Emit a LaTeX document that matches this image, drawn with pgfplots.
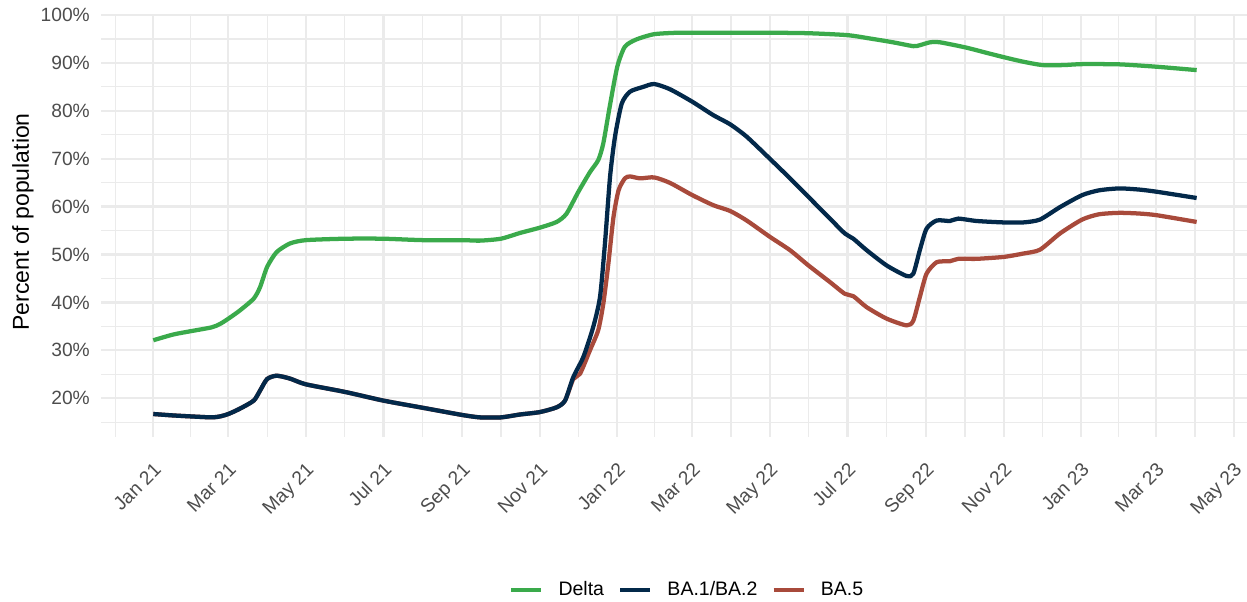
\documentclass[border=0pt]{standalone}
\usepackage{fontspec}
\setmainfont{Liberation Sans}
\usepackage{pgfplots}
\pgfplotsset{compat=1.18}
\definecolor{delta}{HTML}{3AAA4B}
\definecolor{ba12}{HTML}{03294A}
\definecolor{ba5}{HTML}{A84A3B}
\definecolor{gridc}{HTML}{EBEBEB}
\definecolor{tickc}{HTML}{4D4D4D}
\begin{document}
\begin{tikzpicture}
\useasboundingbox (0,0) rectangle (623.5pt,300.5pt);
\begin{axis}[
  at={(50.6pt,82pt)}, anchor=south west,
  scale only axis, width=572.9pt, height=211.7pt,
  xmin=-41, xmax=860.4, ymin=11.9, ymax=100.3,
  xtick={0,59,120,181,243,304,365,424,485,546,608,669,730,789,850},
  xticklabels={Jan 21,Mar 21,May 21,Jul 21,Sep 21,Nov 21,Jan 22,Mar 22,May 22,Jul 22,Sep 22,Nov 22,Jan 23,Mar 23,May 23},
  minor xtick={-29.5,29.5,89.5,150.5,212,273.5,334.5,394.5,454.5,515.5,577,638.5,699.5,759.5,819.5},
  ytick={20,30,40,50,60,70,80,90,100},
  yticklabels={20\%,30\%,40\%,50\%,60\%,70\%,80\%,90\%,100\%},
  minor ytick={15,25,35,45,55,65,75,85,95},
  grid=both,
  major grid style={draw=gridc, line width=1.16pt},
  minor grid style={draw=gridc, line width=0.58pt},
  axis line style={draw=none},
  tick style={draw=none},
  major tick length=0pt, minor tick length=0pt,
  ticklabel style={font=\fontsize{9.6}{11}\selectfont, text=tickc},
  yticklabel style={anchor=east, inner sep=0pt, xshift=-5.5pt},
  xticklabel style={inner sep=0pt, xshift=-0.3pt, yshift=-12pt, rotate=45, anchor=north east},
  ylabel={Percent of population},
  ylabel style={at={(axis description cs:-0.0684,0.508)}, anchor=center, font=\fontsize{11.5}{13}\selectfont},
  legend style={at={(axis description cs:0.3556,-0.3614)}, anchor=west, draw=none, fill=none, inner sep=0pt,
    nodes={inner sep=0pt, font=\fontsize{9.75}{11}\selectfont},
    column sep=0pt,
    /tikz/every odd column/.append style={column sep=7.6pt},
    /tikz/every even column/.append style={column sep=7pt}},
  legend columns=3,
  legend cell align=left,
  legend image code/.code={\draw[#1, line width=2.13pt] (0pt,0pt) -- (15pt,0pt);},
]
\addplot[delta, line width=2.13pt, line join=round, smooth, tension=0.4, forget plot] coordinates {
(0,32.1) (15.7,33.3) (29.6,34.0) (46,34.8) (52.5,35.5) (59,36.6) (68,38.3) (79,40.8) (84,43.2) (89.5,47.4) (97,50.5) (107.5,52.3) (120,53.0) (151,53.3) (181,53.3) (212,53.0) (243,53.0) (257,52.9) (273.5,53.3) (288.5,54.5) (304,55.6) (317.3,56.8) (325,58.5) (334.4,63.1) (343.5,67.2) (350,69.7) (354,73.2) (359,80.8) (365,89.2) (371,93.4) (380,94.9) (394,96.0) (412,96.3) (424,96.3) (485,96.3) (515.5,96.2) (546,95.8) (563.8,95.1) (582,94.3) (597.9,93.5) (603,93.7) (611,94.3) (619,94.3) (639.5,93.2) (655.6,92.1) (669,91.2) (684.4,90.25) (699.6,89.55) (716,89.55) (730.7,89.75) (760,89.7) (789.5,89.2) (820.8,88.5)
};
\addplot[ba5, line width=2.13pt, line join=round, smooth, tension=0.4, forget plot] coordinates {
(0,16.7) (15.7,16.4) (29.6,16.2) (46,16.0) (52.5,16.2) (59,16.7) (68,17.8) (79,19.5) (84,21.6) (89.5,24.0) (97,24.7) (107.5,24.1) (120,22.9) (151,21.3) (181,19.5) (212,18.0) (243,16.5) (257,16.0) (273.5,16.0) (288.5,16.6) (304,17.1) (317.3,18.1) (323.9,19.5) (330.4,24.0) (335.7,25.1) (343.5,30.0) (350,34.2) (354,39.7) (358,48.1) (362,57.8) (366,63.4) (371,65.9) (375,66.3) (383,65.9) (394,66.1) (406.5,64.95) (424,62.4) (440.5,60.3) (453.7,59.1) (466.8,57.1) (485,53.7) (500.9,50.9) (515.5,47.7) (532.3,44.25) (544,41.8) (550.7,41.3) (561.2,39.0) (577,36.6) (592.7,35.2) (597.9,36.2) (603,41.1) (608.3,46.0) (616.3,48.4) (626.7,48.6) (633.3,49.1) (647.7,49.1) (669,49.5) (684.4,50.2) (697.5,51.0) (713.3,54.4) (730.7,57.3) (744,58.4) (760,58.7) (775.9,58.55) (789.5,58.2) (820.8,56.8)
};
\addplot[ba12, line width=2.13pt, line join=round, smooth, tension=0.4, forget plot] coordinates {
(0,16.7) (15.7,16.4) (29.6,16.2) (46,16.0) (52.5,16.2) (59,16.7) (68,17.8) (79,19.5) (84,21.6) (89.5,24.0) (97,24.7) (107.5,24.1) (120,22.9) (151,21.3) (181,19.5) (212,18.0) (243,16.5) (257,16.0) (273.5,16.0) (288.5,16.6) (304,17.1) (317.3,18.1) (323.9,19.5) (330.4,24.4) (338.3,28.6) (346,34.8) (351.4,41.1) (355.3,52.3) (359.3,66.2) (363.2,74.6) (368.5,81.5) (375,84.0) (385.5,85.0) (394,85.6) (406.5,84.5) (424,81.9) (440.5,79.1) (453.7,77.2) (466.8,74.6) (485,70.0) (500.9,65.9) (515.5,62.0) (532.3,57.5) (544,54.4) (550.7,53.3) (561.2,50.9) (577,47.7) (592.7,45.5) (597.9,46.0) (603,50.9) (608.3,55.4) (616.3,57.1) (626.7,57.0) (633.3,57.5) (647.7,57.0) (669,56.7) (684.4,56.7) (697.5,57.3) (713.3,59.9) (730.7,62.4) (744,63.4) (760,63.8) (775.9,63.55) (789.5,63.1) (820.8,61.8)
};
\addlegendimage{delta}\addlegendentry{Delta}
\addlegendimage{ba12}\addlegendentry{BA.1/BA.2}
\addlegendimage{ba5}\addlegendentry{BA.5}
\end{axis}
\end{tikzpicture}
\end{document}
